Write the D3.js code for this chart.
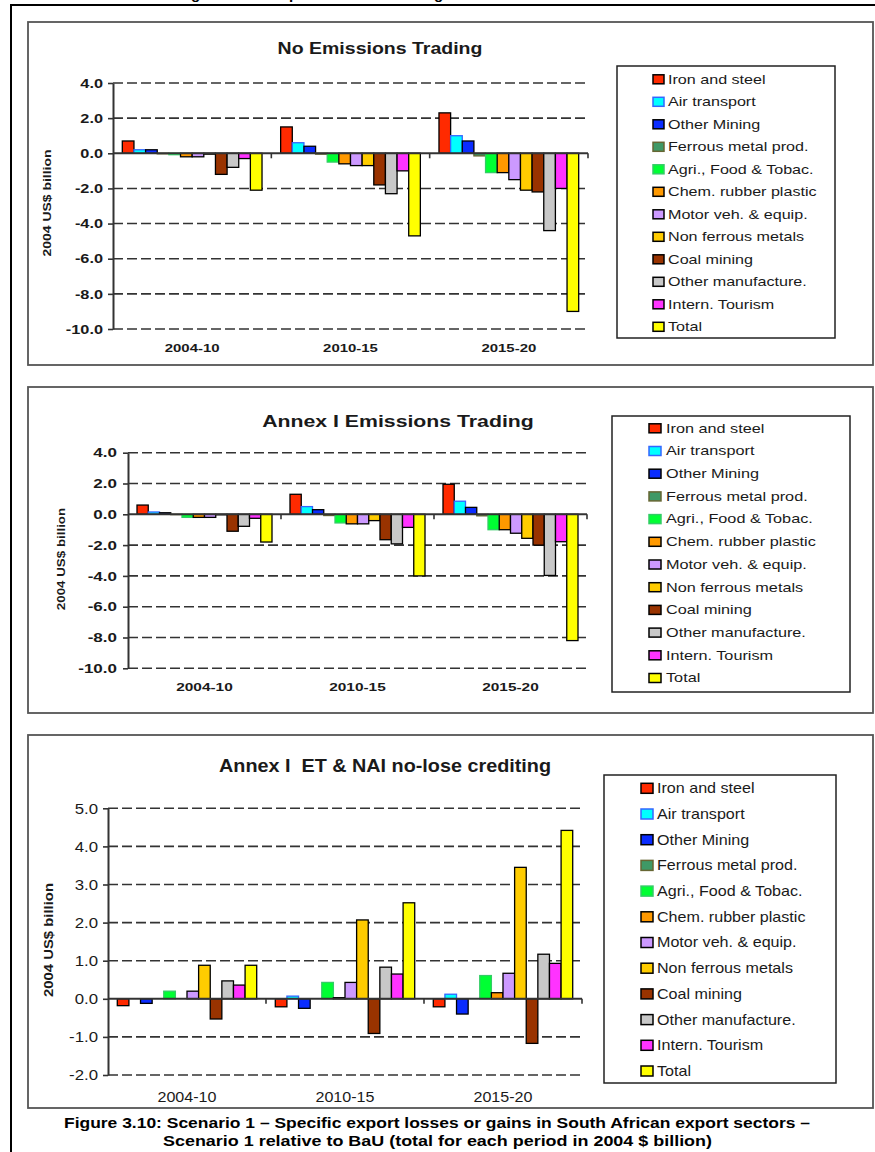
<!DOCTYPE html>
<html>
<head>
<meta charset="utf-8">
<script src="https://cdn.jsdelivr.net/npm/d3@7"></script>
<style>
  body { margin: 0; background: #fff; }
  svg text { font-family: "Liberation Sans", Arial, sans-serif; }
</style>
</head>
<body>
<div id="chart"></div>
<script>
// sectors, periods and values (2004 US$ billion)
const sectors = ['Iron and steel', 'Air transport', 'Other Mining', 'Ferrous metal prod.',
  'Agri., Food & Tobac.', 'Chem. rubber plastic', 'Motor veh. & equip.', 'Non ferrous metals',
  'Coal mining', 'Other manufacture.', 'Intern. Tourism', 'Total'];
const periods = ['2004-10', '2010-15', '2015-20'];

const noTrading = [
  [0.7, 0.2, 0.2, -0.03, -0.08, -0.2, -0.2, -0.05, -1.2, -0.8, -0.3, -2.1],
  [1.5, 0.6, 0.4, -0.05, -0.5, -0.6, -0.7, -0.7, -1.8, -2.3, -1.0, -4.7],
  [2.3, 1.0, 0.7, -0.15, -1.1, -1.1, -1.5, -2.1, -2.2, -4.4, -2.0, -9.0]
];
const annexTrading = [
  [0.6, 0.15, 0.1, -0.02, -0.2, -0.2, -0.2, -0.03, -1.1, -0.78, -0.26, -1.8],
  [1.3, 0.5, 0.3, -0.08, -0.56, -0.62, -0.62, -0.41, -1.65, -1.92, -0.85, -4.0],
  [1.95, 0.85, 0.45, -0.1, -1.0, -1.0, -1.23, -1.56, -2.0, -3.97, -1.78, -8.2]
];
const annexNai = [
  [-0.18, 0, -0.12, 0, 0.2, 0, 0.2, 0.88, -0.53, 0.47, 0.36, 0.88],
  [-0.21, 0.07, -0.25, 0, 0.43, 0.03, 0.43, 2.07, -0.91, 0.83, 0.65, 2.52],
  [-0.21, 0.12, -0.4, 0, 0.61, 0.16, 0.67, 3.45, -1.17, 1.17, 0.93, 4.42]
];
const ticksTrading = [4, 2, 0, -2, -4, -6, -8, -10];
const ticksNai = [5, 4, 3, 2, 1, 0, -1, -2];

const fills = ['#ff2a00', '#00ffff', '#0a2cff', '#3f9966', '#00ff33', '#ff9900',
  '#cc99ff', '#ffcc00', '#993300', '#c8c8c8', '#ff33ff', '#ffff00'];
const strokes = ['#000', '#3366ff', '#000', '#666633', '#33cc66', '#000',
  '#000', '#000', '#000', '#000', '#000', '#000'];

const svg = d3.select('#chart').append('svg')
  .attr('width', 875).attr('height', 1152);

// text helper: the figure's lettering is stretched along the writing direction
function addText(g, x, y, str, o) {
  return g.append('text')
    .attr('transform', `translate(${x},${y}) rotate(${o.rot || 0}) scale(${o.sx || 1},1)`)
    .attr('text-anchor', o.anchor || 'start')
    .attr('dy', '0.35em')
    .attr('font-size', o.size)
    .attr('font-weight', o.weight || 'normal')
    .attr('fill', '#1a1a1a')
    .text(str);
}

// outer frame and the clipped heading above it
svg.append('rect')
  .attr('x', 11).attr('y', 5).attr('width', 900).attr('height', 1200)
  .attr('fill', 'none').attr('stroke', '#000').attr('stroke-width', 2);
[['g', 191], ['p', 289], ['g', 434]].forEach(([s, x]) => {
  svg.append('text').attr('x', x).attr('y', -1).attr('font-size', 15)
    .attr('font-weight', 'bold').attr('fill', '#000').text(s);
});

function drawPanel(p) {
  const g = svg.append('g');

  g.append('rect')
    .attr('x', p.box[0]).attr('y', p.box[1])
    .attr('width', p.box[2] - p.box[0]).attr('height', p.box[3] - p.box[1])
    .attr('fill', '#fff').attr('stroke', '#555').attr('stroke-width', 1.8);

  addText(g, p.titlePos[0], p.titlePos[1], p.title,
    { size: p.titleSize, sx: p.titleSx, weight: 'bold', anchor: 'middle' });

  const x0 = d3.scaleBand().domain(periods).range([p.left, p.right]);
  const x1 = d3.scaleBand().domain(sectors).range([0, x0.bandwidth()]).paddingOuter(0.8);
  const y = d3.scaleLinear()
    .domain([d3.min(p.ticks), d3.max(p.ticks)])
    .range([p.bottom, p.top]);

  g.selectAll('.grid')
    .data(p.ticks.filter(t => t !== 0))
    .join('line')
    .attr('class', 'grid')
    .attr('x1', p.left).attr('x2', p.right)
    .attr('y1', d => y(d)).attr('y2', d => y(d))
    .attr('stroke', '#333').attr('stroke-width', 1.6)
    .attr('stroke-dasharray', '10,4');

  const rows = [];
  p.data.forEach((vals, i) => vals.forEach((v, j) =>
    rows.push({ period: periods[i], sector: sectors[j], v: v, j: j })));

  g.selectAll('.bar')
    .data(rows)
    .join('rect')
    .attr('class', 'bar')
    .attr('x', d => x0(d.period) + x1(d.sector))
    .attr('width', x1.bandwidth())
    .attr('y', d => y(Math.max(0, d.v)))
    .attr('height', d => Math.abs(y(d.v) - y(0)))
    .attr('fill', d => fills[d.j])
    .attr('stroke', d => strokes[d.j])
    .attr('stroke-width', 1.3);

  // y axis
  const yAxisG = g.append('g')
    .attr('transform', `translate(${p.left},0)`)
    .call(d3.axisLeft(y).tickValues(p.ticks).tickSize(5).tickSizeOuter(0)
      .tickFormat(d => d.toFixed(1)));
  yAxisG.select('.domain').attr('stroke', '#333').attr('stroke-width', 2);
  yAxisG.selectAll('.tick line').attr('stroke', '#333').attr('stroke-width', 1.6);
  yAxisG.selectAll('.tick text')
    .attr('x', -p.tickGap / p.tickSx)
    .attr('dy', '0.35em')
    .attr('transform', `scale(${p.tickSx},1)`)
    .attr('font-size', p.tickSize)
    .attr('font-weight', p.tickWeight)
    .attr('font-family', null)
    .attr('fill', '#1a1a1a');

  // zero line with ticks at the period boundaries
  g.append('line')
    .attr('x1', p.left).attr('x2', p.right)
    .attr('y1', y(0)).attr('y2', y(0))
    .attr('stroke', '#333').attr('stroke-width', 2);
  g.selectAll('.xtick')
    .data(periods)
    .join('line')
    .attr('class', 'xtick')
    .attr('x1', d => x0(d) + x0.bandwidth()).attr('x2', d => x0(d) + x0.bandwidth())
    .attr('y1', y(0)).attr('y2', y(0) + 5)
    .attr('stroke', '#333').attr('stroke-width', 1.6);

  periods.forEach(d => {
    addText(g, x0(d) + x0.bandwidth() / 2, p.xLabelY, d,
      { size: p.xSize, sx: p.xSx, weight: p.xWeight, anchor: 'middle' });
  });

  addText(g, p.yLabelPos[0], p.yLabelPos[1], '2004 US$ billion',
    { size: p.yLabelSize, sx: p.yLabelSx, weight: 'bold', anchor: 'middle', rot: -90 });

  // legend
  const lg = p.legend;
  g.append('rect')
    .attr('x', lg.box[0]).attr('y', lg.box[1])
    .attr('width', lg.box[2] - lg.box[0]).attr('height', lg.box[3] - lg.box[1])
    .attr('fill', '#fff').attr('stroke', '#222').attr('stroke-width', 1.5);
  sectors.forEach((s, j) => {
    const cy = lg.y0 + j * lg.step;
    g.append('rect')
      .attr('x', lg.sqX).attr('y', cy - lg.sqH / 2)
      .attr('width', lg.sqW).attr('height', lg.sqH)
      .attr('fill', fills[j]).attr('stroke', strokes[j]).attr('stroke-width', 1.5);
    addText(g, lg.textX, cy, s, { size: lg.size, sx: lg.sx });
  });
}

drawPanel({
  title: 'No Emissions Trading', titlePos: [380, 48], titleSize: 16, titleSx: 1.22,
  box: [28, 22, 873, 365],
  data: noTrading, ticks: ticksTrading,
  left: 113, right: 588, top: 83, bottom: 329,
  tickSize: 12, tickSx: 1.36, tickWeight: 'bold', tickGap: 10,
  xLabelY: 348, xSize: 11.5, xSx: 1.3, xWeight: 'bold',
  yLabelPos: [47, 203], yLabelSize: 10.5, yLabelSx: 1.33,
  legend: { box: [617, 66, 835, 338], y0: 79.3, step: 22.5, sqX: 653, sqW: 11, sqH: 9,
    textX: 668, size: 12.5, sx: 1.29 }
});

drawPanel({
  title: 'Annex I Emissions Trading', titlePos: [398, 421], titleSize: 17, titleSx: 1.25,
  box: [28, 387, 873, 713],
  data: annexTrading, ticks: ticksTrading,
  left: 128, right: 587, top: 452.7, bottom: 668.3,
  tickSize: 12, tickSx: 1.42, tickWeight: 'bold', tickGap: 11,
  xLabelY: 687, xSize: 11.5, xSx: 1.34, xWeight: 'bold',
  yLabelPos: [61.5, 559], yLabelSize: 10.5, yLabelSx: 1.27,
  legend: { box: [612, 416, 850, 692], y0: 428.3, step: 22.7, sqX: 649, sqW: 12, sqH: 9,
    textX: 666, size: 12.5, sx: 1.3 }
});

drawPanel({
  title: 'Annex I\u00a0 ET & NAI no-lose crediting', titlePos: [385, 766], titleSize: 18, titleSx: 1.1,
  box: [28, 735, 873, 1108],
  data: annexNai, ticks: ticksNai,
  left: 108, right: 582, top: 808.3, bottom: 1075,
  tickSize: 14, tickSx: 1.2, tickWeight: 'normal', tickGap: 10,
  xLabelY: 1097, xSize: 14, xSx: 1.15, xWeight: 'normal',
  yLabelPos: [49, 940], yLabelSize: 12.5, yLabelSx: 1.19,
  legend: { box: [604, 775, 836, 1083], y0: 788.3, step: 25.7, sqX: 641, sqW: 12, sqH: 10,
    textX: 657, size: 14, sx: 1.15 }
});

// figure caption
const caption = [
  ['Figure 3.10: Scenario 1 \u2013 Specific export losses or gains in South African export sectors \u2013', 64, 1123, 746],
  ['Scenario 1 relative to BaU (total for each period in 2004 $ billion)', 163, 1141, 549]
];
caption.forEach(([s, x, y, w]) => {
  svg.append('text')
    .attr('x', x).attr('y', y).attr('dy', '0.35em')
    .attr('font-size', 15).attr('font-weight', 'bold').attr('fill', '#000')
    .attr('textLength', w).attr('lengthAdjust', 'spacingAndGlyphs')
    .text(s);
});
</script>
</body>
</html>
